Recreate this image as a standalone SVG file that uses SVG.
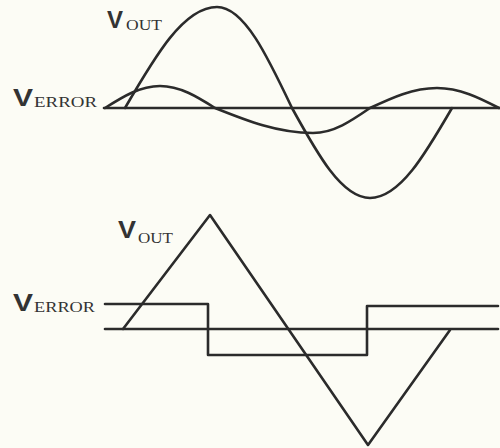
<svg xmlns="http://www.w3.org/2000/svg" width="500" height="448" viewBox="0 0 500 448">
<style>
.bg{fill:#fcfcf5}
.w{fill:none;stroke:#2b2b2b;stroke-width:2.6;stroke-linejoin:round;stroke-linecap:round}
.v{font-family:"Liberation Sans",Arial,sans-serif;font-weight:bold;font-size:23px;fill:#333}
.s{font-family:"Liberation Serif","Times New Roman",serif;font-size:15px;fill:#333}
</style>
<rect class="bg" x="0" y="0" width="500" height="448"/>
<g id="top-labels">
<g id="top-vout"><text class="v" x="107" y="28" textLength="16" lengthAdjust="spacingAndGlyphs">V</text><text class="s" x="126" y="30" textLength="36" lengthAdjust="spacingAndGlyphs">OUT</text></g>
<g id="top-verror"><text class="v" x="13" y="106" textLength="20" lengthAdjust="spacingAndGlyphs">V</text><text class="s" x="34" y="107" textLength="63" lengthAdjust="spacingAndGlyphs">ERROR</text></g>
</g>
<g id="top-waves">
<path id="top-baseline" class="w" d="M104 108 H500"/>
<path id="top-vout-wave" class="w" d="M125 108 C155 56.3 183.7 7 217 7 C244.1 7 267.5 56.3 292 108 C317.4 154.1 341.8 198 370 198 C399.7 198 425.3 154.1 452 108"/>
<path id="top-verror-wave" class="w" d="M105 108 C122.9 96.7 140.1 86 160 86 C179.9 86 197.1 96.7 215 108 C247 120.8 277.5 133 313 133 C333.6 133 351.4 120.8 370 108 C391.8 97.8 412.8 88 437 88 C459.8 88 479.5 97.8 499 108"/>
</g>
<g id="bottom-labels">
<g id="bot-vout"><text class="v" x="118" y="238" textLength="18" lengthAdjust="spacingAndGlyphs">V</text><text class="s" x="138" y="243" textLength="35" lengthAdjust="spacingAndGlyphs">OUT</text></g>
<g id="bot-verror"><text class="v" x="13" y="311" textLength="20" lengthAdjust="spacingAndGlyphs">V</text><text class="s" x="34" y="312" textLength="61" lengthAdjust="spacingAndGlyphs">ERROR</text></g>
</g>
<g id="bottom-waves">
<path id="bot-baseline" class="w" d="M105 329 H498"/>
<path id="bot-verror-wave" class="w" d="M105 304 H208 V355 H367 V306 H498"/>
<path id="bot-vout-wave" class="w" d="M123 329 L210 215 L368 445 L450 330"/>
</g>
</svg>
